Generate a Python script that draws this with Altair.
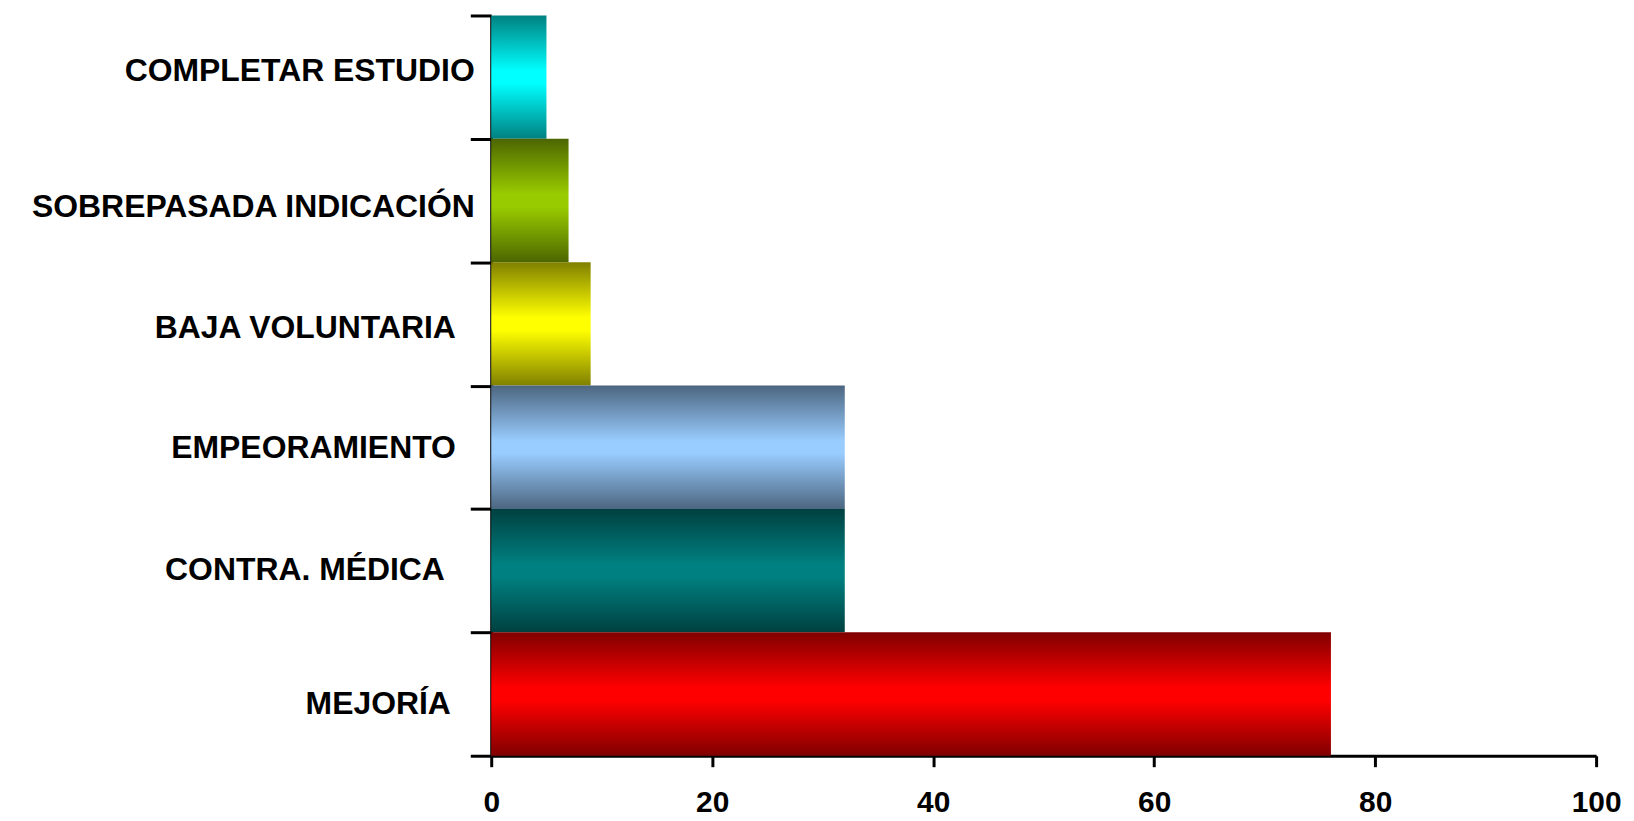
import altair as alt
import pandas as pd

categories = ["COMPLETAR ESTUDIO", "SOBREPASADA INDICACIÓN", "BAJA VOLUNTARIA",
              "EMPEORAMIENTO", "CONTRA. MÉDICA", "MEJORÍA"]
values = [5, 7, 9, 32, 32, 76]
edge_colors = ["#008080", "#4C6600", "#808000", "#4C6680", "#004040", "#800000"]
center_colors = ["#00FFFF", "#99CC00", "#FFFF00", "#99CCFF", "#008080", "#FF0000"]
x_ticks = [0, 20, 40, 60, 80, 100]

# per-label fine placement (style only)
label_pad = [-4, -4, 15, 15, 26, 20]
label_off = [-7, 6, 4, 0, -1, 10]

df = pd.DataFrame({"cat": categories, "value": values})

pad_cond = {"condition": [{"test": f"datum.value == '{c}'", "value": p}
                          for c, p in zip(categories, label_pad)], "value": 0}
off_cond = {"condition": [{"test": f"datum.value == '{c}'", "value": o}
                          for c, o in zip(categories, label_off)], "value": 0}

y_enc = alt.Y("cat:N", sort=categories,
              scale=alt.Scale(paddingInner=0, paddingOuter=0),
              axis=alt.Axis(title=None, tickBand="extent", tickSize=21, tickWidth=3,
                            tickColor="black", domainColor="black", domainWidth=3,
                            labelFontSize=32, labelFontWeight="bold", labelColor="black",
                            labelFont="Liberation Sans", labelPadding=pad_cond,
                            labelOffset=off_cond, labelLimit=0))
x_enc = alt.X("value:Q", scale=alt.Scale(domain=[0, 100], nice=False),
              axis=alt.Axis(title=None, values=x_ticks, grid=False, tickSize=11, tickWidth=3,
                            tickColor="black", domainColor="black", domainWidth=3,
                            labelFontSize=30, labelFontWeight="bold", labelColor="black",
                            labelFont="Liberation Sans", labelPadding=21,
                            labelFlush=False, labelOverlap=False))

layers = []
for cat, ec, cc in zip(categories, edge_colors, center_colors):
    grad = alt.LinearGradient(
        gradient="linear",
        stops=[alt.GradientStop(color=ec, offset=0),
               alt.GradientStop(color=cc, offset=0.45),
               alt.GradientStop(color=cc, offset=0.55),
               alt.GradientStop(color=ec, offset=1)],
        x1=0, x2=0, y1=0, y2=1)
    layer = (alt.Chart(df)
             .transform_filter(alt.datum.cat == cat)
             .mark_bar(color=grad, strokeWidth=0)
             .encode(x=x_enc, y=y_enc))
    layers.append(layer)

chart = (alt.layer(*layers)
         .properties(width=1109, height=743,
                     autosize=alt.AutoSizeParams(type="none"),
                     padding={"left": 485, "top": 6, "right": 30, "bottom": 64},
                     background="white")
         .configure_view(stroke=None))

chart.save("out.html", embed_options={"renderer": "svg", "actions": False})
